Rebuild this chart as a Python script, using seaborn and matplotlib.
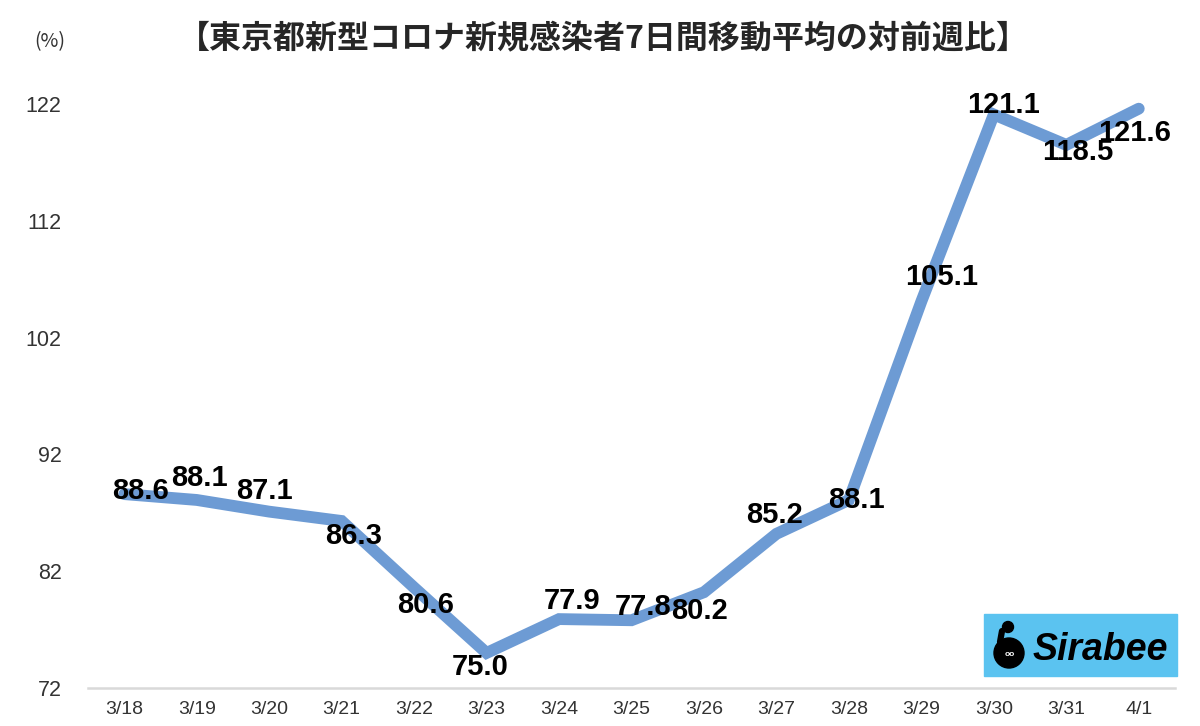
import matplotlib
matplotlib.use("Agg")
import matplotlib.pyplot as plt
import seaborn as sns
import pandas as pd
from matplotlib.patches import Rectangle, Ellipse
from matplotlib.lines import Line2D

# ---- data ----
dates = ["3/18", "3/19", "3/20", "3/21", "3/22", "3/23", "3/24", "3/25",
         "3/26", "3/27", "3/28", "3/29", "3/30", "3/31", "4/1"]
values = [88.6, 88.1, 87.1, 86.3, 80.6, 75.0, 77.9, 77.8,
          80.2, 85.2, 88.1, 105.1, 121.1, 118.5, 121.6]
yticks = [72, 82, 92, 102, 112, 122]
title = "【東京都新型コロナ新規感染者7日間移動平均の対前週比】"

# label offsets in pixels (dx right, dy down)
label_dx = [16, 3, -5, 12, 11, -6, 13, 12, -4, -2, 8, 20, 10, 11, -4]
label_dy = [-3, -22, -21, 15, 17, 14, -18, -13, 19, -19, 0, -24, -10, 7, 24]

sns.set_theme(style="white")
plt.rcParams["font.family"] = ["Liberation Sans", "Noto Sans CJK JP", "DejaVu Sans"]

W, H = 1200, 726
fig = plt.figure(figsize=(W / 100, H / 100), dpi=100)
fig.patch.set_facecolor("white")
x0, x1, yb, yt = 88, 1175, 688, 104
ax = fig.add_axes([x0 / W, 1 - yb / H, (x1 - x0) / W, (yb - yt) / H])
ax.set_facecolor("white")

df = pd.DataFrame({"date": dates, "value": values})
sns.lineplot(data=df, x="date", y="value", ax=ax, color="#6d9bd4",
             linewidth=8.5, sort=False)
for ln in ax.get_lines():
    ln.set_solid_capstyle("round")
    ln.set_solid_joinstyle("miter")
    ln.set_clip_on(False)

ax.set_xlim(-0.5, len(dates) - 0.5)
ax.set_ylim(72, 122)
ax.set_yticks(yticks)
ax.set_yticklabels([str(t) for t in yticks])
ax.set_xticks(range(len(dates)))
ax.set_xticklabels(dates)
ax.set_xticks([i - 0.5 for i in range(len(dates) + 1)], minor=True)
ax.tick_params(axis="x", which="major", length=0, pad=9, labelsize=14,
               labelcolor="#333333")
ax.tick_params(axis="x", which="minor", length=5, width=1.2, color="#d9d9d9",
               direction="out")
ax.tick_params(axis="y", length=0, pad=19, labelsize=15.5, labelcolor="#333333")
ax.set_xlabel("")
ax.set_ylabel("")
for s in ["left", "top", "right"]:
    ax.spines[s].set_visible(False)
ax.spines["bottom"].set_color("#d9d9d9")
ax.spines["bottom"].set_linewidth(1.8)
ax.grid(False)

for i, v in enumerate(values):
    ax.annotate(f"{v:.1f}", (i, v), xytext=(label_dx[i], -label_dy[i]),
                textcoords="offset pixels", ha="center", va="center",
                fontsize=21, fontweight="bold", color="black", zorder=5)

fig.text(603 / W, 1 - 39 / H, title, ha="center", va="center", fontsize=23,
         fontweight="bold", family=["Noto Sans CJK JP", "DejaVu Sans"])
fig.text(50 / W, 1 - 42 / H, "(%)", ha="center", va="center", fontsize=14,
         family=["Noto Sans CJK JP", "DejaVu Sans"], color="#333333")

# logo
fig.add_artist(Rectangle((984 / W, 1 - 676 / H), 193 / W, 62 / H,
                         transform=fig.transFigure, color="#5bc3f0", zorder=1))
fig.add_artist(Ellipse((1009 / W, 1 - 653 / H), 30 / W, 30 / H,
                       transform=fig.transFigure, color="black", zorder=2))
fig.add_artist(Line2D([1000 / W, 1002 / W], [1 - 642 / H, 1 - 631 / H],
                      transform=fig.transFigure, color="black", lw=4.5,
                      solid_capstyle="round", zorder=2))
fig.add_artist(Ellipse((1008 / W, 1 - 627 / H), 11 / W, 11 / H,
                       transform=fig.transFigure, color="black", zorder=2))
fig.text(1010 / W, 1 - 655 / H, "oo", ha="center", va="center", fontsize=6,
         color="white", fontweight="bold", zorder=3)
fig.text(1100 / W, 1 - 650 / H, "Sirabee", ha="center", va="center",
         fontsize=27, fontweight="bold", style="italic", color="black",
         zorder=3)

fig.savefig("out.png", dpi=100, facecolor="white")
